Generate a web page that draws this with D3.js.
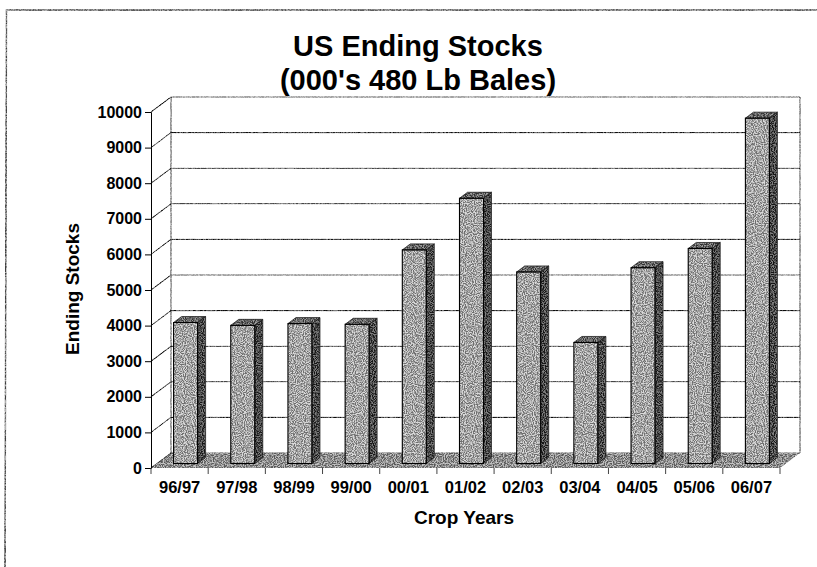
<!doctype html>
<html>
<head>
<meta charset="utf-8">
<title>US Ending Stocks</title>
<script src="https://cdn.jsdelivr.net/npm/d3@7"></script>
<style>
    html, body { margin: 0; background: #fff; overflow: hidden; }
    text { font-family: "Liberation Sans", Arial, sans-serif; font-weight: bold; fill: #000; }
</style>
</head>
<body>
<svg id="chart" width="817" height="567"></svg>
<script>
var cropYears = ['96/97','97/98','98/99','99/00','00/01','01/02','02/03','03/04','04/05','05/06','06/07'];
var endingStocks = [3960,3880,3930,3910,6000,7450,5380,3400,5500,6040,9700];
var yTicks = [0,1000,2000,3000,4000,5000,6000,7000,8000,9000,10000];

var svg = d3.select('#chart');

// front plane of the fake 3d box
var left = 151, right = 780, top0 = 112, bottom = 468;
var depthX = 20, depthY = -15;
var barDepthX = 8, barDepthY = -6;

var x = d3.scaleBand().domain(cropYears).range([left, right]).paddingInner(0.58).paddingOuter(0.29);
var y = d3.scaleLinear().domain([0, 10000]).range([bottom, top0]);

// speckle filter, to look like the scanned halftone
function speckle(id, amount, freq) {
    var f = svg.append('defs').append('filter')
        .attr('id', id)
        .attr('x', '-5%').attr('y', '-5%').attr('width', '110%').attr('height', '110%')
        .attr('color-interpolation-filters', 'sRGB');
    f.append('feTurbulence')
        .attr('type', 'fractalNoise').attr('baseFrequency', freq).attr('numOctaves', 1).attr('seed', 4)
        .attr('result', 'n');
    f.append('feColorMatrix').attr('in', 'n').attr('type', 'matrix')
        .attr('values', '4 0 0 0 -1.5  4 0 0 0 -1.5  4 0 0 0 -1.5  0 0 0 0 1')
        .attr('result', 'g');
    f.append('feComposite').attr('in', 'SourceGraphic').attr('in2', 'g')
        .attr('operator', 'arithmetic')
        .attr('k1', 0).attr('k2', 1).attr('k3', amount).attr('k4', -amount / 2)
        .attr('result', 'm');
    f.append('feComposite').attr('in', 'm').attr('in2', 'SourceAlpha').attr('operator', 'in');
}
speckle('noise', 0.42, 0.9);
speckle('noiseLine', 0.45, 0.6);

// page frame: only top and left show in the scan
svg.append('path')
    .attr('d', d3.line()([[5, 567], [6.5, 10], [817, 10]]))
    .attr('fill', 'none').attr('stroke', '#777').attr('stroke-width', 1.6)
    .attr('filter', 'url(#noiseLine)');

// back wall and gridlines
var grid = svg.append('g').attr('fill', 'none').attr('stroke', '#444').attr('stroke-width', 1.1).attr('filter', 'url(#noiseLine)');
yTicks.forEach(function(t) {
    var py = y(t);
    grid.append('path').attr('d', d3.line()([[left, py], [left + depthX, py + depthY], [right + depthX, py + depthY]]));
});
grid.append('path').attr('d', d3.line()([[left + depthX, y(10000) + depthY], [left + depthX, y(0) + depthY]]));
grid.append('path').attr('d', d3.line()([[right + depthX, y(10000) + depthY], [right + depthX, y(0) + depthY]]));

// floor
svg.append('path')
    .attr('d', d3.line()([[left, y(0)], [left + depthX, y(0) + depthY], [right + depthX, y(0) + depthY], [right, y(0)]]) + 'Z')
    .attr('fill', '#8e8e8e')
    .attr('filter', 'url(#noise)');

// bars
var bars = svg.selectAll('g.bar').data(cropYears).enter().append('g').attr('class', 'bar');
function x0(d) { return x(d) + 6; }
function x1(d) { return x(d) + 6 + x.bandwidth(); }
function yv(i) { return y(endingStocks[i]) - 4.5; }
var base = y(0) - 4.5;

function sidePath(d, i) {
    return d3.line()([[x1(d), yv(i)], [x1(d) + barDepthX, yv(i) + barDepthY], [x1(d) + barDepthX, base + barDepthY], [x1(d), base]]) + 'Z';
}
function topPath(d, i) {
    return d3.line()([[x0(d), yv(i)], [x0(d) + barDepthX, yv(i) + barDepthY], [x1(d) + barDepthX, yv(i) + barDepthY], [x1(d), yv(i)]]) + 'Z';
}

bars.append('path').attr('d', sidePath).attr('fill', '#4a4a4a').attr('filter', 'url(#noise)');
bars.append('path').attr('d', topPath).attr('fill', '#666').attr('filter', 'url(#noise)');
bars.append('rect')
    .attr('fill', '#a4a4a4')
    .attr('filter', 'url(#noise)')
    .attr('x', function(d) { return x0(d); })
    .attr('y', function(d, i) { return yv(i); })
    .attr('width', x.bandwidth())
    .attr('height', function(d, i) { return base - yv(i); });

// outlines on top so the speckle doesn't eat them
bars.append('path').attr('d', sidePath).attr('fill', 'none').attr('stroke', '#222').attr('stroke-width', 0.8);
bars.append('path').attr('d', topPath).attr('fill', 'none').attr('stroke', '#222').attr('stroke-width', 0.8);
bars.append('rect')
    .attr('fill', 'none').attr('stroke', '#000').attr('stroke-width', 1.1)
    .attr('x', function(d) { return x0(d); })
    .attr('y', function(d, i) { return yv(i); })
    .attr('width', x.bandwidth())
    .attr('height', function(d, i) { return base - yv(i); });

// axes
var yAxis = svg.append('g').attr('transform', 'translate(' + left + ',0)')
    .call(d3.axisLeft(y).tickValues(yTicks).tickSize(6).tickPadding(3).tickFormat(d3.format('d')));
yAxis.selectAll('text').style('font-size', '16px');

var xAxis = svg.append('g').attr('transform', 'translate(0,' + bottom + ')')
    .call(d3.axisBottom(x).tickSize(0).tickPadding(13));
xAxis.select('.domain').remove();
xAxis.selectAll('text').style('font-size', '16.5px');
// ticks sit between categories
xAxis.selectAll('line.sep').data(d3.range(cropYears.length + 1)).enter().append('line')
    .attr('class', 'sep')
    .attr('x1', function(d) { return left + d * (right - left) / cropYears.length; })
    .attr('x2', function(d) { return left + d * (right - left) / cropYears.length; })
    .attr('y1', 0).attr('y2', 6).attr('stroke', '#444');

// titles
svg.append('text').attr('x', 418).attr('y', 56).attr('text-anchor', 'middle').style('font-size', '29px').text('US Ending Stocks');
svg.append('text').attr('x', 418).attr('y', 90).attr('text-anchor', 'middle').style('font-size', '29px').text("(000's 480 Lb Bales)");
svg.append('text').attr('x', 464).attr('y', 524).attr('text-anchor', 'middle').style('font-size', '19px').text('Crop Years');
svg.append('text').attr('transform', 'translate(79,289) rotate(-90)').attr('text-anchor', 'middle').style('font-size', '19px').text('Ending Stocks');
</script>
</body>
</html>
